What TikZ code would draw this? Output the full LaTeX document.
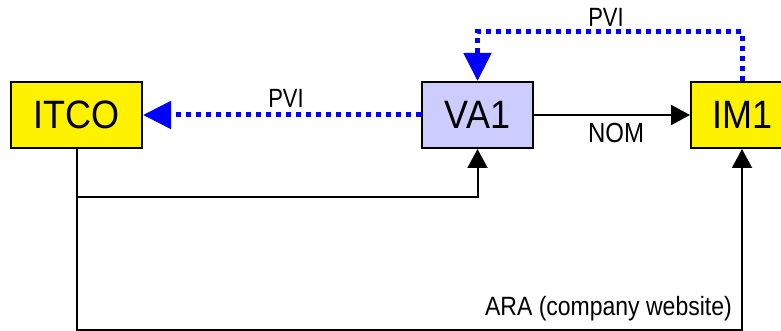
\documentclass[tikz,border=0pt]{standalone}
\usepackage{fontspec}
\setmainfont{Liberation Sans}
\usetikzlibrary{arrows.meta}
\begin{document}
\begin{tikzpicture}[x=1pt,y=-1pt,
 box/.style={draw=black,line width=2pt,minimum height=66pt,inner sep=0pt,font=\fontsize{36}{36}\selectfont},
 dotline/.style={draw=blue,line width=5pt,dash pattern=on 5pt off 5pt},
 blk/.style={draw=black,line width=2pt},
 bigtip/.style={-{Triangle[length=28pt,width=27pt]}},
 smalltip/.style={-{Triangle[length=19pt,width=20pt]}},
 lbl/.style={font=\fontsize{22}{22}\selectfont,inner sep=0pt,anchor=base}]
\clip (0,0) rectangle (781,331);
\node[box,fill=yellow,minimum width=131pt] (itco) at (76.5,115) {\scalebox{1}[1.1]{ITCO}};
\node[box,fill={rgb,255:red,204;green,204;blue,255},minimum width=111pt] (va1) at (477.5,115) {\scalebox{1}[1.1]{VA1}};
\node[box,fill=yellow,minimum width=102pt] (im1) at (742,115) {\scalebox{1}[1.1]{IM1}};
\draw[dotline,bigtip] (va1.west) -- (itco.east);
\draw[dotline,bigtip] (im1.north) -- ++(0,-49) -| (va1.north);
\draw[blk,smalltip] (va1.east) -- (im1.west);
\draw[blk,smalltip] (itco.south) -- ++(0,48) -| (va1.south);
\draw[blk,smalltip] (itco.south) -- ++(0,181) -| (im1.south);
\node[lbl] (l1) at (286,108) {\scalebox{1}[1.2]{PVI}};
\node[lbl] (l2) at (606,27) {\scalebox{1}[1.2]{PVI}};
\node[lbl,font=\fontsize{24}{24}\selectfont] (l3) at (616,143) {\scalebox{1}[1.15]{NOM}};
\node[lbl,anchor=base east,font=\fontsize{23}{23}\selectfont] (l4) at (732,315) {\scalebox{1}[1.15]{ARA (company website)}};
\end{tikzpicture}
\end{document}
